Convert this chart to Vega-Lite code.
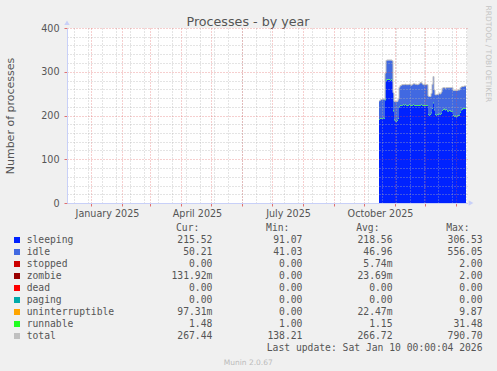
{
  "$schema": "https://vega.github.io/schema/vega-lite/v6.json",
  "width": 400,
  "height": 175,
  "autosize": {"type": "none"},
  "padding": {"left": 67, "top": 28, "right": 30, "bottom": 168},
  "background": "#f0f0f0",
  "config": {
    "view": {"fill": "white", "stroke": null},
    "font": "DejaVu Sans",
    "axis": {"labelFont": "DejaVu Sans", "titleFont": "DejaVu Sans", "titleFontWeight": "normal", "labelColor": "#555555", "titleColor": "#555555"}
  },
  "title": {"text": "Processes - by year", "fontSize": 12.7, "fontWeight": "normal", "color": "#555555", "font": "DejaVu Sans", "anchor": "middle", "frame": "group", "dx": -19, "dy": 34, "offset": 0, "baseline": "alphabetic"},
  "datasets": {
    "ts": [
      {"date": "2025-10-16", "sleeping": 191, "idle": 41, "runnable": 1.1, "total": 233.5},
      {"date": "2025-10-17", "sleeping": 192, "idle": 42, "runnable": 1.1, "total": 235.5},
      {"date": "2025-10-18", "sleeping": 193, "idle": 42, "runnable": 1.1, "total": 236.5},
      {"date": "2025-10-19", "sleeping": 193, "idle": 43, "runnable": 1.1, "total": 237.5},
      {"date": "2025-10-20", "sleeping": 194, "idle": 42, "runnable": 1.1, "total": 237.5},
      {"date": "2025-10-21", "sleeping": 193, "idle": 43, "runnable": 1.2, "total": 237.5},
      {"date": "2025-10-22", "sleeping": 235, "idle": 60, "runnable": 1.3, "total": 297},
      {"date": "2025-10-23", "sleeping": 280, "idle": 44, "runnable": 1.5, "total": 326},
      {"date": "2025-10-24", "sleeping": 281, "idle": 44, "runnable": 1.4, "total": 327},
      {"date": "2025-10-25", "sleeping": 282, "idle": 43, "runnable": 1.4, "total": 327},
      {"date": "2025-10-26", "sleeping": 281, "idle": 44, "runnable": 1.4, "total": 327},
      {"date": "2025-10-27", "sleeping": 280, "idle": 45, "runnable": 1.4, "total": 327},
      {"date": "2025-10-28", "sleeping": 281, "idle": 44, "runnable": 1.4, "total": 327},
      {"date": "2025-10-29", "sleeping": 279, "idle": 44, "runnable": 1.4, "total": 325},
      {"date": "2025-10-30", "sleeping": 210, "idle": 40, "runnable": 1.2, "total": 252},
      {"date": "2025-10-31", "sleeping": 189, "idle": 42, "runnable": 1.1, "total": 232.5},
      {"date": "2025-11-01", "sleeping": 187, "idle": 43, "runnable": 1.1, "total": 231.5},
      {"date": "2025-11-02", "sleeping": 186, "idle": 44, "runnable": 1.1, "total": 231.5},
      {"date": "2025-11-03", "sleeping": 188, "idle": 43, "runnable": 1.1, "total": 232.5},
      {"date": "2025-11-04", "sleeping": 192, "idle": 44, "runnable": 1.1, "total": 237.5},
      {"date": "2025-11-05", "sleeping": 219, "idle": 44, "runnable": 1.2, "total": 264.5},
      {"date": "2025-11-06", "sleeping": 222, "idle": 45, "runnable": 1.2, "total": 268.5},
      {"date": "2025-11-07", "sleeping": 223, "idle": 45, "runnable": 1.2, "total": 269.5},
      {"date": "2025-11-08", "sleeping": 223, "idle": 46, "runnable": 1.2, "total": 270.5},
      {"date": "2025-11-09", "sleeping": 224, "idle": 45, "runnable": 1.2, "total": 270.5},
      {"date": "2025-11-10", "sleeping": 223, "idle": 46, "runnable": 1.2, "total": 270.5},
      {"date": "2025-11-11", "sleeping": 224, "idle": 46, "runnable": 1.2, "total": 271.5},
      {"date": "2025-11-12", "sleeping": 223, "idle": 46, "runnable": 1.2, "total": 270.5},
      {"date": "2025-11-13", "sleeping": 222, "idle": 47, "runnable": 1.2, "total": 270.5},
      {"date": "2025-11-14", "sleeping": 223, "idle": 46, "runnable": 1.2, "total": 270.5},
      {"date": "2025-11-15", "sleeping": 224, "idle": 46, "runnable": 1.2, "total": 271.5},
      {"date": "2025-11-16", "sleeping": 223, "idle": 46, "runnable": 1.2, "total": 270.5},
      {"date": "2025-11-17", "sleeping": 222, "idle": 46, "runnable": 1.2, "total": 269.5},
      {"date": "2025-11-18", "sleeping": 223, "idle": 46, "runnable": 1.2, "total": 270.5},
      {"date": "2025-11-19", "sleeping": 224, "idle": 47, "runnable": 1.2, "total": 272.5},
      {"date": "2025-11-20", "sleeping": 223, "idle": 48, "runnable": 1.2, "total": 272.5},
      {"date": "2025-11-21", "sleeping": 222, "idle": 48, "runnable": 1.2, "total": 271.5},
      {"date": "2025-11-22", "sleeping": 223, "idle": 47, "runnable": 1.2, "total": 271.5},
      {"date": "2025-11-23", "sleeping": 222, "idle": 47, "runnable": 1.2, "total": 270.5},
      {"date": "2025-11-24", "sleeping": 223, "idle": 47, "runnable": 1.2, "total": 271.5},
      {"date": "2025-11-25", "sleeping": 222, "idle": 49, "runnable": 1.2, "total": 272.5},
      {"date": "2025-11-26", "sleeping": 223, "idle": 51, "runnable": 1.2, "total": 275.5},
      {"date": "2025-11-27", "sleeping": 224, "idle": 50, "runnable": 1.2, "total": 275.5},
      {"date": "2025-11-28", "sleeping": 223, "idle": 48, "runnable": 1.2, "total": 272.5},
      {"date": "2025-11-29", "sleeping": 222, "idle": 47, "runnable": 1.2, "total": 270.5},
      {"date": "2025-11-30", "sleeping": 223, "idle": 47, "runnable": 1.2, "total": 271.5},
      {"date": "2025-12-01", "sleeping": 222, "idle": 47, "runnable": 1.2, "total": 270.5},
      {"date": "2025-12-02", "sleeping": 223, "idle": 46, "runnable": 1.2, "total": 270.5},
      {"date": "2025-12-03", "sleeping": 222, "idle": 47, "runnable": 1.2, "total": 270.5},
      {"date": "2025-12-04", "sleeping": 202, "idle": 41, "runnable": 1.1, "total": 244.5},
      {"date": "2025-12-05", "sleeping": 200, "idle": 42, "runnable": 1.1, "total": 243.5},
      {"date": "2025-12-06", "sleeping": 201, "idle": 41, "runnable": 1.1, "total": 243.5},
      {"date": "2025-12-07", "sleeping": 205, "idle": 44, "runnable": 1.1, "total": 250.5},
      {"date": "2025-12-08", "sleeping": 215, "idle": 55, "runnable": 1.2, "total": 271.5},
      {"date": "2025-12-09", "sleeping": 228, "idle": 59, "runnable": 1.3, "total": 289},
      {"date": "2025-12-10", "sleeping": 212, "idle": 45, "runnable": 1.2, "total": 258.5},
      {"date": "2025-12-11", "sleeping": 201, "idle": 45, "runnable": 1.1, "total": 247.5},
      {"date": "2025-12-12", "sleeping": 200, "idle": 46, "runnable": 1.1, "total": 247.5},
      {"date": "2025-12-13", "sleeping": 202, "idle": 45, "runnable": 1.1, "total": 248.5},
      {"date": "2025-12-14", "sleeping": 201, "idle": 46, "runnable": 1.1, "total": 248.5},
      {"date": "2025-12-15", "sleeping": 203, "idle": 47, "runnable": 1.1, "total": 251.5},
      {"date": "2025-12-16", "sleeping": 201, "idle": 47, "runnable": 1.1, "total": 249.5},
      {"date": "2025-12-17", "sleeping": 204, "idle": 48, "runnable": 1.1, "total": 253.5},
      {"date": "2025-12-18", "sleeping": 211, "idle": 50, "runnable": 1.2, "total": 262.5},
      {"date": "2025-12-19", "sleeping": 213, "idle": 49, "runnable": 1.2, "total": 263.5},
      {"date": "2025-12-20", "sleeping": 214, "idle": 48, "runnable": 1.2, "total": 263.5},
      {"date": "2025-12-21", "sleeping": 212, "idle": 49, "runnable": 1.2, "total": 262.5},
      {"date": "2025-12-22", "sleeping": 213, "idle": 49, "runnable": 1.2, "total": 263.5},
      {"date": "2025-12-23", "sleeping": 210, "idle": 52, "runnable": 1.2, "total": 263.5},
      {"date": "2025-12-24", "sleeping": 209, "idle": 53, "runnable": 1.2, "total": 263.5},
      {"date": "2025-12-25", "sleeping": 211, "idle": 51, "runnable": 1.2, "total": 263.5},
      {"date": "2025-12-26", "sleeping": 210, "idle": 52, "runnable": 1.2, "total": 263.5},
      {"date": "2025-12-27", "sleeping": 208, "idle": 54, "runnable": 1.2, "total": 263.5},
      {"date": "2025-12-28", "sleeping": 209, "idle": 53, "runnable": 1.2, "total": 263.5},
      {"date": "2025-12-29", "sleeping": 199, "idle": 57, "runnable": 1.2, "total": 257.5},
      {"date": "2025-12-30", "sleeping": 197, "idle": 59, "runnable": 1.2, "total": 257.5},
      {"date": "2025-12-31", "sleeping": 198, "idle": 58, "runnable": 1.2, "total": 257.5},
      {"date": "2026-01-01", "sleeping": 196, "idle": 60, "runnable": 1.2, "total": 257.5},
      {"date": "2026-01-02", "sleeping": 198, "idle": 58, "runnable": 1.2, "total": 257.5},
      {"date": "2026-01-03", "sleeping": 199, "idle": 58, "runnable": 1.2, "total": 258.5},
      {"date": "2026-01-04", "sleeping": 200, "idle": 57, "runnable": 1.2, "total": 258.5},
      {"date": "2026-01-05", "sleeping": 206, "idle": 56, "runnable": 1.2, "total": 263.5},
      {"date": "2026-01-06", "sleeping": 212, "idle": 52, "runnable": 1.3, "total": 265.5},
      {"date": "2026-01-07", "sleeping": 214, "idle": 51, "runnable": 1.3, "total": 266.5},
      {"date": "2026-01-08", "sleeping": 215, "idle": 50, "runnable": 1.4, "total": 266.5},
      {"date": "2026-01-09", "sleeping": 216, "idle": 50, "runnable": 1.4, "total": 267.5},
      {"date": "2026-01-10", "sleeping": 215.52, "idle": 50.21, "runnable": 1.48, "total": 267.44},
      {"date": "2026-01-11", "sleeping": 215.52, "idle": 50.21, "runnable": 1.48, "total": 267.44}
    ],
    "legend": [
      {"series": "sleeping", "Cur": "215.52\u00a0", "Min": "91.07\u00a0", "Avg": "218.56\u00a0", "Max": "306.53\u00a0"},
      {"series": "idle", "Cur": "50.21\u00a0", "Min": "41.03\u00a0", "Avg": "46.96\u00a0", "Max": "556.05\u00a0"},
      {"series": "stopped", "Cur": "0.00\u00a0", "Min": "0.00\u00a0", "Avg": "5.74m", "Max": "2.00\u00a0"},
      {"series": "zombie", "Cur": "131.92m", "Min": "0.00\u00a0", "Avg": "23.69m", "Max": "2.00\u00a0"},
      {"series": "dead", "Cur": "0.00\u00a0", "Min": "0.00\u00a0", "Avg": "0.00\u00a0", "Max": "0.00\u00a0"},
      {"series": "paging", "Cur": "0.00\u00a0", "Min": "0.00\u00a0", "Avg": "0.00\u00a0", "Max": "0.00\u00a0"},
      {"series": "uninterruptible", "Cur": "97.31m", "Min": "0.00\u00a0", "Avg": "22.47m", "Max": "9.87\u00a0"},
      {"series": "runnable", "Cur": "1.48\u00a0", "Min": "1.00\u00a0", "Avg": "1.15\u00a0", "Max": "31.48\u00a0"},
      {"series": "total", "Cur": "267.44\u00a0", "Min": "138.21\u00a0", "Avg": "266.72\u00a0", "Max": "790.70\u00a0"}
    ],
    "header": [
      {"stat": "Cur", "text": "Cur:"},
      {"stat": "Min", "text": "Min:"},
      {"stat": "Avg", "text": "Avg:"},
      {"stat": "Max", "text": "Max:"}
    ]
  },
  "layer": [
    {
      "data": {"name": "ts"},
      "resolve": {"axis": {"x": "independent", "y": "independent"}},
      "layer": [
        {
          "transform": [{"fold": ["sleeping", "idle", "runnable"], "as": ["series", "value"]}],
          "mark": {"type": "area", "interpolate": "step-after"},
          "encoding": {
            "x": {"field": "date", "type": "temporal",
              "scale": {"type": "utc", "domain": [{"year": 2024, "month": 12, "date": 8, "utc": true}, {"year": 2026, "month": 1, "date": 12, "utc": true}]},
              "axis": {"orient": "bottom", "values": [
                {"year": 2024, "month": 12, "date": 15, "utc": true}, {"year": 2024, "month": 12, "date": 29, "utc": true},
                {"year": 2025, "month": 1, "date": 12, "utc": true}, {"year": 2025, "month": 1, "date": 26, "utc": true},
                {"year": 2025, "month": 2, "date": 9, "utc": true}, {"year": 2025, "month": 2, "date": 23, "utc": true},
                {"year": 2025, "month": 3, "date": 9, "utc": true}, {"year": 2025, "month": 3, "date": 23, "utc": true},
                {"year": 2025, "month": 4, "date": 6, "utc": true}, {"year": 2025, "month": 4, "date": 20, "utc": true},
                {"year": 2025, "month": 5, "date": 4, "utc": true}, {"year": 2025, "month": 5, "date": 18, "utc": true},
                {"year": 2025, "month": 6, "date": 1, "utc": true}, {"year": 2025, "month": 6, "date": 15, "utc": true},
                {"year": 2025, "month": 6, "date": 29, "utc": true}, {"year": 2025, "month": 7, "date": 13, "utc": true},
                {"year": 2025, "month": 7, "date": 27, "utc": true}, {"year": 2025, "month": 8, "date": 10, "utc": true},
                {"year": 2025, "month": 8, "date": 24, "utc": true}, {"year": 2025, "month": 9, "date": 7, "utc": true},
                {"year": 2025, "month": 9, "date": 21, "utc": true}, {"year": 2025, "month": 10, "date": 5, "utc": true},
                {"year": 2025, "month": 10, "date": 19, "utc": true}, {"year": 2025, "month": 11, "date": 2, "utc": true},
                {"year": 2025, "month": 11, "date": 16, "utc": true}, {"year": 2025, "month": 11, "date": 30, "utc": true},
                {"year": 2025, "month": 12, "date": 14, "utc": true}, {"year": 2025, "month": 12, "date": 28, "utc": true},
                {"year": 2026, "month": 1, "date": 11, "utc": true}],
                "grid": true, "gridColor": "#b0b0b0", "gridDash": [1, 2], "gridOpacity": 0.7,
                "labels": false, "ticks": false, "domain": false, "title": null, "zindex": 1}
            },
            "y": {"field": "value", "type": "quantitative", "stack": "zero",
              "scale": {"domain": [0, 400], "nice": false},
              "axis": {"orient": "left", "values": [20, 40, 60, 80, 120, 140, 160, 180, 220, 240, 260, 280, 320, 340, 360, 380],
                "grid": true, "gridColor": "#b0b0b0", "gridDash": [1, 2], "gridOpacity": 0.7,
                "labels": false, "ticks": false, "domain": false, "title": null, "zindex": 1}
            },
            "color": {"field": "series", "type": "nominal",
              "sort": ["sleeping", "idle", "runnable"],
              "scale": {"domain": ["sleeping", "idle", "stopped", "zombie", "dead", "paging", "uninterruptible", "runnable", "total"],
                "range": ["#0022ff", "#4169e1", "#cc0000", "#990000", "#ff0000", "#00aaaa", "#ffa500", "#22ff22", "#c0c0c0"]},
              "legend": null}
          }
        },
        {
          "mark": {"type": "line", "interpolate": "step-after", "color": "#c0c0c0", "strokeWidth": 1},
          "encoding": {
            "x": {"field": "date", "type": "temporal",
              "axis": {"orient": "bottom", "values": [
                {"year": 2025, "month": 1, "date": 1, "utc": true}, {"year": 2025, "month": 2, "date": 1, "utc": true},
                {"year": 2025, "month": 3, "date": 1, "utc": true}, {"year": 2025, "month": 4, "date": 1, "utc": true},
                {"year": 2025, "month": 5, "date": 1, "utc": true}, {"year": 2025, "month": 6, "date": 1, "utc": true},
                {"year": 2025, "month": 7, "date": 1, "utc": true}, {"year": 2025, "month": 8, "date": 1, "utc": true},
                {"year": 2025, "month": 9, "date": 1, "utc": true}, {"year": 2025, "month": 10, "date": 1, "utc": true},
                {"year": 2025, "month": 11, "date": 1, "utc": true}, {"year": 2025, "month": 12, "date": 1, "utc": true},
                {"year": 2026, "month": 1, "date": 1, "utc": true}],
                "grid": true, "gridColor": "#e05050", "gridDash": [1, 2], "gridOpacity": 0.55,
                "ticks": true, "tickColor": "#e07070", "tickSize": 3, "domain": true, "domainColor": "#c8d0f8",
                "labelExpr": "indexof([0,3,6,9], utcmonth(datum.value)) >= 0 && utcyear(datum.value) == 2025 ? utcFormat(datum.value, '%B %Y') : ''",
                "labelOffset": 16, "labelPadding": 2, "labelFontSize": 9.6, "labelOverlap": false, "labelFlush": false, "labelBound": false,
                "title": null, "zindex": 1}
            },
            "y": {"field": "total", "type": "quantitative",
              "axis": {"orient": "left", "values": [0, 100, 200, 300, 400],
                "grid": true, "gridColor": "#e05050", "gridDash": [1, 2], "gridOpacity": 0.55,
                "ticks": true, "tickColor": "#e07070", "tickSize": 3, "domain": true, "domainColor": "#c8d0f8",
                "labelFontSize": 9.6, "labelPadding": 5, "title": "Number of processes", "titleFontSize": 11, "titlePadding": 25, "zindex": 1}
            }
          }
        },
        {
          "data": {"values": [{"kind": "yarrow"}]},
          "mark": {"type": "point", "shape": "triangle-up", "filled": true, "color": "#c8d0f8", "size": 30, "opacity": 1, "clip": false},
          "encoding": {
            "x": {"datum": {"year": 2024, "month": 12, "date": 8, "utc": true}, "type": "temporal", "axis": null},
            "y": {"datum": 412, "type": "quantitative",
              "axis": {"orient": "right", "title": "RRDTOOL / TOBI OETIKER", "labels": false, "ticks": false, "domain": false, "grid": false,
                "titleFontSize": 7.5, "titleColor": "#c4c4c4", "titleFontWeight": "normal", "titleAngle": 90, "titleX": 18.5, "titleY": -23,
                "titleAlign": "left", "titleBaseline": "alphabetic"}}
          }
        },
        {
          "data": {"values": [{"kind": "xarrow"}]},
          "mark": {"type": "point", "shape": "triangle-right", "filled": true, "color": "#c8d0f8", "size": 30, "opacity": 1, "clip": false},
          "encoding": {
            "x": {"datum": {"year": 2026, "month": 1, "date": 16, "utc": true}, "type": "temporal", "axis": null},
            "y": {"datum": 0, "type": "quantitative", "axis": null}
          }
        }
      ]
    },
    {
      "layer": [
        {
          "data": {"name": "legend"},
          "mark": {"type": "square", "filled": true, "size": 36, "opacity": 1},
          "encoding": {
            "x": {"datum": "swatch", "type": "nominal", "scale": {"type": "point", "domain": ["swatch", "name", "Cur", "Min", "Avg", "Max"], "range": [-50, 400.35], "padding": 0}, "axis": null},
            "y": {"field": "series", "type": "nominal",
              "scale": {"type": "point", "domain": ["header", "sleeping", "idle", "stopped", "zombie", "dead", "paging", "uninterruptible", "runnable", "total", "lastupdate", "munin"], "range": [200, 332], "padding": 0},
              "axis": null},
            "color": {"field": "series", "type": "nominal", "legend": null}
          }
        },
        {
          "data": {"name": "legend"},
          "mark": {"type": "text", "align": "left", "baseline": "middle", "dx": 9.7, "font": "DejaVu Sans Mono", "fontSize": 9.7, "color": "#555555"},
          "encoding": {
            "x": {"datum": "swatch", "type": "nominal", "axis": null},
            "y": {"field": "series", "type": "nominal", "axis": null},
            "text": {"field": "series"}
          }
        },
        {
          "data": {"name": "legend"},
          "transform": [{"fold": ["Cur", "Min", "Avg", "Max"], "as": ["stat", "text"]}],
          "mark": {"type": "text", "align": "right", "baseline": "middle", "dx": 15.2, "font": "DejaVu Sans Mono", "fontSize": 9.7, "color": "#555555"},
          "encoding": {
            "x": {"field": "stat", "type": "nominal", "axis": null},
            "y": {"field": "series", "type": "nominal", "axis": null},
            "text": {"field": "text"}
          }
        },
        {
          "data": {"name": "header"},
          "mark": {"type": "text", "align": "right", "baseline": "middle", "dx": 2.2, "font": "DejaVu Sans Mono", "fontSize": 9.7, "color": "#555555"},
          "encoding": {
            "x": {"field": "stat", "type": "nominal", "axis": null},
            "y": {"datum": "header", "type": "nominal", "axis": null},
            "text": {"field": "text"}
          }
        },
        {
          "data": {"values": [{"text": "Last update: Sat Jan 10 00:00:04 2026"}]},
          "mark": {"type": "text", "align": "right", "baseline": "middle", "dx": 15.2, "font": "DejaVu Sans Mono", "fontSize": 9.7, "color": "#555555"},
          "encoding": {
            "x": {"datum": "Max", "type": "nominal", "axis": null},
            "y": {"datum": "lastupdate", "type": "nominal", "axis": null},
            "text": {"field": "text"}
          }
        },
        {
          "data": {"values": [{"text": "Munin 2.0.67"}]},
          "mark": {"type": "text", "align": "center", "baseline": "middle", "dx": -39, "dy": 3, "font": "DejaVu Sans", "fontSize": 7.5, "color": "#bbbbbb"},
          "encoding": {
            "x": {"datum": "Min", "type": "nominal", "axis": null},
            "y": {"datum": "munin", "type": "nominal", "axis": null},
            "text": {"field": "text"}
          }
        }
      ]
    }
  ],
  "resolve": {"scale": {"x": "independent", "y": "independent"}}
}
